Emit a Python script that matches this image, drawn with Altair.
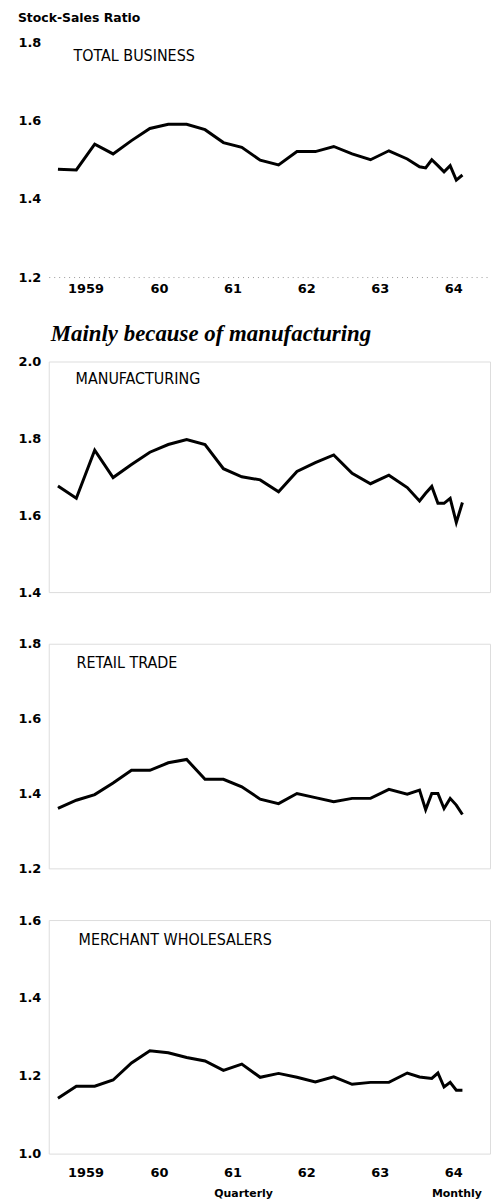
import altair as alt
import pandas as pd

# ---- periods: quarterly 1959-1963, then monthly 1964 ----
years_q = [1959, 1960, 1961, 1962, 1963]
quarters = [1, 2, 3, 4]
months_1964 = [1, 2, 3, 4, 5, 6, 7, 8]

# ---- stock-sales ratios ----
total_q = [1.476, 1.474, 1.540, 1.515, 1.549, 1.580, 1.591, 1.591, 1.577, 1.544,
           1.532, 1.499, 1.487, 1.521, 1.521, 1.534, 1.515, 1.500, 1.523, 1.502]
total_m = [1.482, 1.479, 1.500, 1.485, 1.469, 1.485, 1.448, 1.461]

manuf_q = [1.676, 1.644, 1.769, 1.698, 1.732, 1.764, 1.784, 1.797, 1.784, 1.721,
           1.700, 1.692, 1.661, 1.714, 1.737, 1.757, 1.709, 1.682, 1.704, 1.672]
manuf_m = [1.637, 1.657, 1.675, 1.631, 1.631, 1.644, 1.581, 1.633]

retail_q = [1.360, 1.382, 1.397, 1.428, 1.462, 1.462, 1.482, 1.491, 1.438, 1.438,
            1.418, 1.385, 1.373, 1.400, 1.389, 1.378, 1.387, 1.387, 1.411, 1.398]
retail_m = [1.409, 1.357, 1.400, 1.400, 1.360, 1.387, 1.369, 1.344]

whole_q = [1.142, 1.173, 1.173, 1.189, 1.233, 1.264, 1.259, 1.247, 1.238, 1.214,
           1.230, 1.196, 1.206, 1.196, 1.184, 1.197, 1.178, 1.183, 1.183, 1.207]
whole_m = [1.197, 1.195, 1.193, 1.207, 1.171, 1.183, 1.163, 1.163]

year_ticks = [1959.5, 1960.5, 1961.5, 1962.5, 1963.5, 1964.5]
year_labels = ["1959", "60", "61", "62", "63", "64"]

# x positions: middle of each quarter / month
x_pos = [y + (q - 0.5) / 4 for y in years_q for q in quarters] + \
        [1964 + (m - 0.5) / 12 for m in months_1964]

label_expr = " : ".join(
    f"datum.value == {v} ? '{l}'" for v, l in zip(year_ticks, year_labels)
) + " : ''"

AXIS_FONT = "DejaVu Sans"
NARROW = "Liberation Sans Narrow, DejaVu Sans Condensed, Roboto, sans-serif"
W = 444


def panel(q_vals, m_vals, name, ymin, ymax, height, label_xy,
          x_labels=False, x_pad=6, first=False, title=None, extra=None):
    df = pd.DataFrame({"x": x_pos, "v": q_vals + m_vals})
    yt = [round(ymin + 0.2 * i, 1) for i in range(4)]
    x_axis = alt.Axis(
        values=year_ticks, labelExpr=label_expr, ticks=False, grid=False,
        domain=first, domainColor="#999", domainDash=[1, 4], domainWidth=1,
        labelFont=AXIS_FONT, labelFontWeight="bold", labelFontSize=13,
        labelColor="black", labelOpacity=1 if x_labels else 0,
        labelPadding=x_pad, title=None,
    )
    line = alt.Chart(df).mark_line(color="black", strokeWidth=3, strokeJoin="miter").encode(
        x=alt.X("x:Q", scale=alt.Scale(domain=[1959, 1965], nice=False, zero=False), axis=x_axis),
        y=alt.Y("v:Q", scale=alt.Scale(domain=[ymin, ymax], nice=False, zero=False),
                axis=alt.Axis(values=yt, format=".1f", ticks=False, grid=False, domain=False,
                              labelFont=AXIS_FONT, labelFontWeight="bold", labelFontSize=13,
                              labelColor="black", labelPadding=8, title=None)),
    )
    lab = alt.Chart(pd.DataFrame({"t": [name]})).mark_text(
        align="left", baseline="middle", font=NARROW, fontSize=16, color="black"
    ).encode(text="t:N", x=alt.value(label_xy[0]), y=alt.value(label_xy[1]))
    layers = [line, lab] + ([extra] if extra is not None else [])
    props = dict(width=W, height=height)
    if first:
        props["view"] = alt.ViewBackground(stroke="transparent")
    if title is not None:
        props["title"] = title
    return alt.layer(*layers).properties(**props)


p1 = panel(total_q, total_m, "TOTAL BUSINESS", 1.2, 1.8, 236, (25, 14),
           x_labels=True, x_pad=6, first=True,
           title=alt.TitleParams("Stock-Sales Ratio", anchor="start", frame="bounds",
                                 font=AXIS_FONT, fontSize=12.5, fontWeight="bold",
                                 color="black", offset=12))
p2 = panel(manuf_q, manuf_m, "MANUFACTURING", 1.4, 2.0, 232, (27, 18),
           title=alt.TitleParams("Mainly because of manufacturing", anchor="start",
                                 frame="group", dx=2,
                                 font="Liberation Serif", fontSize=23, fontStyle="italic",
                                 fontWeight="bold", color="black", offset=10))
p3 = panel(retail_q, retail_m, "RETAIL TRADE", 1.2, 1.8, 226, (28, 19))

# bottom panel with "Quarterly" / "Monthly" notes
freq_names = ["Quarterly", "Monthly"]
freq_x = [1961.65, 1964.55]
freq = alt.Chart(pd.DataFrame({"t": freq_names, "x": freq_x})).mark_text(
    align="center", baseline="middle", font=AXIS_FONT, fontSize=11, fontWeight="bold",
    color="black"
).encode(text="t:N", x="x:Q", y=alt.value(276))
p4 = panel(whole_q, whole_m, "MERCHANT WHOLESALERS", 1.0, 1.6, 235, (30, 20),
           x_labels=True, x_pad=13, extra=freq)

chart = alt.vconcat(p1, p2, p3, p4, spacing=25).properties(
    padding={"left": 9, "top": 0, "right": 0, "bottom": 0}
).configure_view(
    stroke="#888", strokeDash=[1, 3], strokeWidth=1
).configure(background="white")

chart.save("out.html", embed_options={"renderer": "svg", "actions": False})
